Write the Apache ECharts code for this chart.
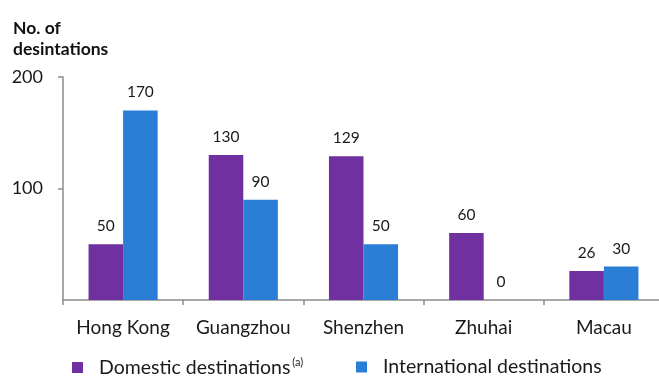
<!DOCTYPE html>
<html>
<head>
<meta charset="utf-8">
<script src="https://cdn.jsdelivr.net/npm/echarts@6/dist/echarts.min.js"></script>
<style>
html,body{margin:0;padding:0;background:#fff;overflow:hidden;}
#chart{width:665px;height:376px;}
</style>
</head>
<body>
<div id="chart"></div>
<script>
var categories = ['Hong Kong', 'Guangzhou', 'Shenzhen', 'Zhuhai', 'Macau'];
var domestic = [50, 130, 129, 60, 26];
var international = [170, 90, 50, 0, 30];
var seriesNames = ['Domestic destinations', 'International destinations'];
var yTicks = [0, 100, 200];

var FONT = 'Lato';
var chart = echarts.init(document.getElementById('chart'), null, {renderer: 'canvas'});
var labelStyle = {show: true, position: 'top', distance: 10, color: '#1a1a1a', fontSize: 15.5, fontFamily: FONT};
var legendText = {
  fontFamily: FONT, fontSize: 19.5, color: '#1a1a1a', padding: [0, 0, 0, 11],
  rich: {sup: {fontFamily: FONT, fontSize: 11, color: '#1a1a1a', verticalAlign: 'top', padding: [0, 0, 10, 2]}}
};
chart.setOption({
  animation: false,
  title: {
    text: 'No. of\ndesintations',
    left: 8, top: 13,
    textStyle: {fontFamily: FONT, fontWeight: 'bold', fontSize: 17.5, color: '#111', lineHeight: 21}
  },
  legend: [
    {left: 67, top: 352, itemWidth: 11, itemHeight: 11, icon: 'rect', data: [seriesNames[0]],
     formatter: function (n) { return n + '{sup|(a)}'; }, textStyle: legendText},
    {left: 351, top: 352, itemWidth: 11, itemHeight: 11, icon: 'rect', data: [seriesNames[1]],
     textStyle: legendText}
  ],
  grid: {left: 63, right: 1, top: 77, bottom: 76, containLabel: false},
  xAxis: {
    type: 'category', data: categories,
    axisLine: {lineStyle: {color: '#8c8c8c', width: 1.5}},
    axisTick: {show: true, length: 5, lineStyle: {color: '#8c8c8c', width: 1.5}},
    axisLabel: {interval: 0, color: '#1a1a1a', fontFamily: FONT, fontSize: 19, margin: 18}
  },
  yAxis: {
    type: 'value', min: yTicks[0], max: yTicks[2], interval: 100,
    splitLine: {show: false},
    axisLine: {show: true, lineStyle: {color: '#8c8c8c', width: 1.5}},
    axisTick: {show: true, length: 5, lineStyle: {color: '#8c8c8c', width: 1.5}},
    axisLabel: {showMinLabel: false, color: '#1a1a1a', fontFamily: FONT, fontSize: 18, margin: 20}
  },
  series: [
    {name: seriesNames[0], type: 'bar', data: domestic, barGap: '0%', barCategoryGap: '42.5%',
     itemStyle: {color: '#7030A0'}, label: labelStyle},
    {name: seriesNames[1], type: 'bar', data: international,
     itemStyle: {color: '#2A7ED6'}, label: labelStyle}
  ]
});
</script>
</body>
</html>
